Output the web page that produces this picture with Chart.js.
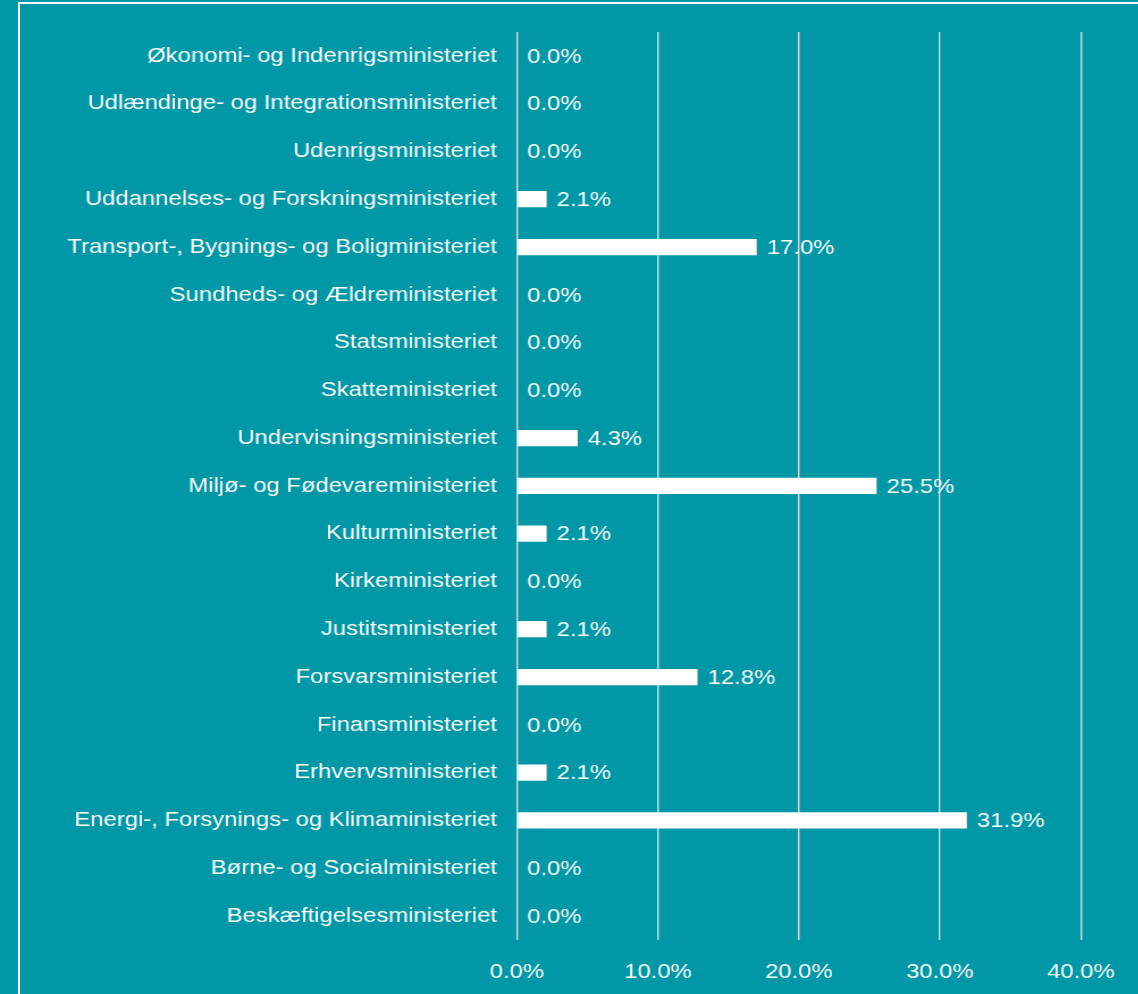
<!DOCTYPE html>
<html lang="da">
<head>
    <meta charset="UTF-8">
    <title>Ministerier</title>
    <script src="https://cdn.jsdelivr.net/npm/chart.js@4.4.0/dist/chart.umd.min.js"></script>
    <style>
        html, body { margin: 0; padding: 0; background: #0097a7; overflow: hidden; }
        /* the source figure is stretched horizontally, so the canvas is too */
        #wrap { position: absolute; left: 0; top: 0; width: 1003px; height: 994px; transform: scaleX(1.135); transform-origin: 0 0; }
        #frame { position: absolute; left: 18px; top: 2px; width: 1200px; height: 1100px; border: 2px solid #fff; }
    </style>
</head>
<body>
<div id="frame"></div>
<div id="wrap"><canvas id="myChart"></canvas></div>
</body>
<script>
    const categories = [
        'Økonomi- og Indenrigsministeriet',
        'Udlændinge- og Integrationsministeriet',
        'Udenrigsministeriet',
        'Uddannelses- og Forskningsministeriet',
        'Transport-, Bygnings- og Boligministeriet',
        'Sundheds- og Ældreministeriet',
        'Statsministeriet',
        'Skatteministeriet',
        'Undervisningsministeriet',
        'Miljø- og Fødevareministeriet',
        'Kulturministeriet',
        'Kirkeministeriet',
        'Justitsministeriet',
        'Forsvarsministeriet',
        'Finansministeriet',
        'Erhvervsministeriet',
        'Energi-, Forsynings- og Klimaministeriet',
        'Børne- og Socialministeriet',
        'Beskæftigelsesministeriet'
    ];
    const shares = [0.0, 0.0, 0.0, 2.1, 17.0, 0.0, 0.0, 0.0, 4.3, 25.5, 2.1, 0.0, 2.1, 12.8, 0.0, 2.1, 31.9, 0.0, 0.0];
    const xTicks = [0, 10, 20, 30, 40];

    const font = {family: "'Liberation Sans', Arial, sans-serif", size: 21};

    // value labels to the right of each bar
    const valueLabels = {
        id: 'valueLabels',
        afterDatasetsDraw(chart) {
            const ctx = chart.ctx;
            const meta = chart.getDatasetMeta(0);
            ctx.save();
            ctx.fillStyle = '#ffffff';
            ctx.font = font.size + 'px ' + font.family;
            ctx.textAlign = 'left';
            ctx.textBaseline = 'middle';
            meta.data.forEach(function (bar, i) {
                ctx.fillText(shares[i].toFixed(1) + '%', bar.x + 9, bar.y + 1);
            });
            ctx.restore();
        }
    };

    const ctx = document.getElementById('myChart').getContext('2d');
    const chart = new Chart(ctx, {
        type: 'bar',
        data: {
            labels: categories,
            datasets: [{
                data: shares,
                backgroundColor: '#ffffff',
                borderWidth: 0,
                categoryPercentage: 1,
                barPercentage: 0.34
            }]
        },
        options: {
            indexAxis: 'y',
            responsive: true,
            maintainAspectRatio: false,
            animation: false,
            layout: {padding: {top: 32, right: 50.6, bottom: -11, left: 0}},
            plugins: {legend: {display: false}, tooltip: {enabled: false}},
            scales: {
                x: {
                    min: 0,
                    max: 40,
                    afterBuildTicks: function (scale) {
                        scale.ticks = xTicks.map(v => ({value: v}));
                    },
                    grid: {color: '#d9d9d9', lineWidth: 1.4, drawTicks: false},
                    border: {display: false},
                    ticks: {
                        color: '#ffffff',
                        font: font,
                        padding: 20,
                        maxRotation: 0,
                        callback: v => v.toFixed(1) + '%'
                    }
                },
                y: {
                    grid: {display: false, drawTicks: false},
                    border: {display: false},
                    afterFit: function (scale) { scale.width = 455.5; },
                    ticks: {color: '#ffffff', font: font, padding: 17.6, autoSkip: false}
                }
            }
        },
        plugins: [valueLabels]
    });
</script>
</html>
